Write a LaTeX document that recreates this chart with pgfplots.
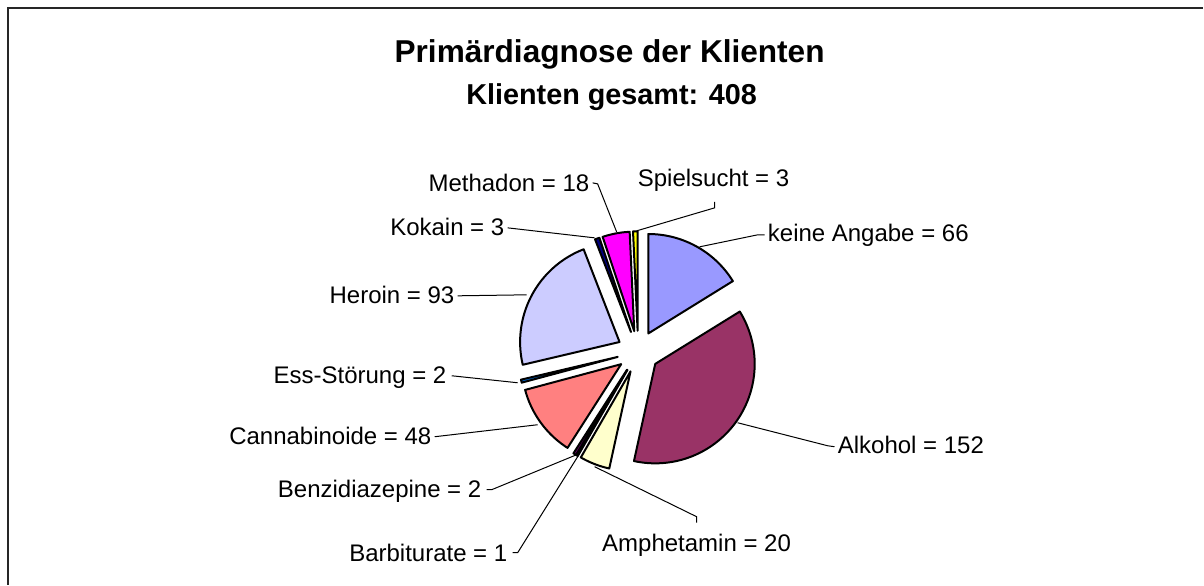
\documentclass[border=0pt]{standalone}
\usepackage{pgfplots}
\pgfplotsset{compat=1.18}
\usepackage{pgfplotstable}
\usepackage{fontspec}
\setmainfont{Liberation Sans}
\definecolor{s1}{HTML}{9999FF}
\definecolor{s2}{HTML}{993366}
\definecolor{s3}{HTML}{FFFFCC}
\definecolor{s4}{HTML}{CCFFFF}
\definecolor{s5}{HTML}{660066}
\definecolor{s6}{HTML}{FF8080}
\definecolor{s7}{HTML}{0066CC}
\definecolor{s8}{HTML}{CCCCFF}
\definecolor{s9}{HTML}{000080}
\definecolor{s10}{HTML}{FF00FF}
\definecolor{s11}{HTML}{FFFF00}
% slices clockwise from 12 o'clock
\pgfplotstableread{
name value col
keineAngabe 66 s1
Alkohol 152 s2
Amphetamin 20 s3
Barbiturate 1 s4
Benzidiazepine 2 s5
Cannabinoide 48 s6
EssStoerung 2 s7
Heroin 93 s8
Kokain 3 s9
Methadon 18 s10
Spielsucht 3 s11
}\piedata
\newcommand{\lbl}{\fontsize{12pt}{14pt}\selectfont}
\begin{document}
\begin{tikzpicture}
\begin{axis}[x=0.5pt,y=0.5pt,xmin=0,xmax=1204,ymin=0,ymax=585,hide axis,clip=false]
\path (axis cs:0,0) rectangle (axis cs:1204,585);
\draw[line width=0.75pt,black!85] (axis cs:8,0) -- (axis cs:8,577) -- (axis cs:1204,577);
\def\cum{0}
\pgfplotsforeachungrouped \i in {0,...,10}{%
  \pgfplotstablegetelem{\i}{value}\of\piedata \edef\sv{\pgfplotsretval}%
  \pgfplotstablegetelem{\i}{col}\of\piedata \edef\slicecol{\pgfplotsretval}%
  \pgfmathsetmacro{\sA}{90-\cum*(360/408)}%
  \pgfmathsetmacro{\sB}{90-(\cum+\sv)*(360/408)}%
  \pgfmathsetmacro{\sM}{(\sA+\sB)/2}%
  \pgfmathsetmacro{\ox}{638.5+21*cos(\sM)}%
  \pgfmathsetmacro{\oy}{233+21*sin(\sM)}%
  \pgfmathtruncatemacro{\nn}{max(2,ceil((\sA-\sB)/1.5))}%
  \xdef\coords{(\ox,\oy)}%
  \foreach \k in {0,...,\nn}{%
     \pgfmathsetmacro{\ang}{\sA+(\sB-\sA)*\k/\nn}%
     \pgfmathsetmacro{\px}{\ox+99.5*cos(\ang)}%
     \pgfmathsetmacro{\py}{\oy+99.5*sin(\ang)}%
     \xdef\coords{\coords (\px,\py)}%
  }%
  \edef\doplot{\noexpand\addplot[draw=black,line width=1pt,line join=round,fill=\slicecol] coordinates {\coords} -- cycle;}%
  \doplot
  \pgfmathsetmacro{\cum}{\cum+\sv}%
}
% title
\node[anchor=base,font=\fontsize{15.8pt}{18pt}\selectfont\bfseries] at (axis cs:610,522) {Primärdiagnose der Klienten};
\node[anchor=base,font=\fontsize{14.4pt}{17pt}\selectfont\bfseries] at (axis cs:612,480) {Klienten gesamt: 408};
% leader lines
\begin{scope}[line width=0.5pt]
\draw (axis cs:715,383) -- (axis cs:715,377) -- (axis cs:637,354);
\draw (axis cs:765,350) -- (axis cs:758,350) -- (axis cs:700,338);
\draw (axis cs:593,402) -- (axis cs:598,401) -- (axis cs:617,353);
\draw (axis cs:508,357) -- (axis cs:595,347);
\draw (axis cs:458,289) -- (axis cs:527,290);
\draw (axis cs:452,209) -- (axis cs:518,202);
\draw (axis cs:435,148) -- (axis cs:538,160);
\draw (axis cs:487,95) -- (axis cs:492,95) -- (axis cs:577,130);
\draw (axis cs:513,32) -- (axis cs:518,32) -- (axis cs:578,128);
\draw (axis cs:697,62) -- (axis cs:697,68) -- (axis cs:595,118);
\draw (axis cs:835,138) -- (axis cs:828,139) -- (axis cs:738,162);
\end{scope}
% labels
\begin{scope}[every node/.style={inner sep=0pt,font=\lbl}]
\node[anchor=base] at (axis cs:714,398.5) {Spielsucht = 3};
\node[anchor=base west] at (axis cs:768,343.5) {keine Angabe = 66};
\node[anchor=base east] at (axis cs:590,393.5) {Methadon = 18};
\node[anchor=base east] at (axis cs:505,349.5) {Kokain = 3};
\node[anchor=base east] at (axis cs:455,281.5) {Heroin = 93};
\node[anchor=base east] at (axis cs:447,201.5) {Ess-Störung = 2};
\node[anchor=base east] at (axis cs:432,140.5) {Cannabinoide = 48};
\node[anchor=base east] at (axis cs:482,87.5) {Benzidiazepine = 2};
\node[anchor=base east] at (axis cs:508,23.5) {Barbiturate = 1};
\node[anchor=base] at (axis cs:697,33.5) {Amphetamin = 20};
\node[anchor=base west] at (axis cs:838,131.5) {Alkohol = 152};
\end{scope}
\end{axis}
\end{tikzpicture}
\end{document}
